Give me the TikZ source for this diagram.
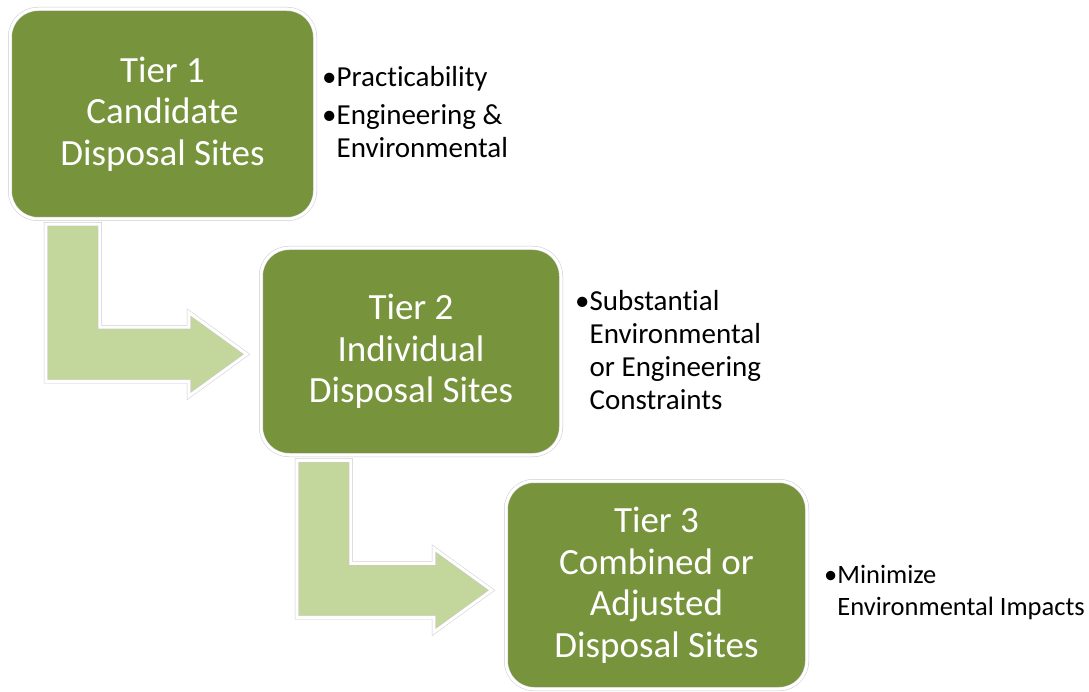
\documentclass[tikz,border=0pt]{standalone}
\usepackage{fontspec}
\setmainfont{Carlito}[Ligatures=NoCommon]
\usetikzlibrary{calc}
\definecolor{tiergreen}{HTML}{77933C}
\definecolor{flowgreen}{HTML}{C3D69B}
\tikzstyle{tier}=[rectangle,rounded corners=28pt,fill=tiergreen,draw=black!20,double=white,double distance=3pt,line width=0.5pt,text=white,align=center,inner sep=0pt,font=\fontsize{37}{41.5}\selectfont]
\tikzstyle{crit}=[anchor=base west,inner sep=0pt,font=\fontsize{29}{33}\selectfont]
\tikzstyle{flow}=[fill=flowgreen,draw=black!20,double=white,double distance=3pt,line width=0.5pt]

\begin{document}
\begin{tikzpicture}[x=1pt,y=-1pt]
\fill[white] (0,0) rectangle (1089,692);
\node[tier,minimum width=305pt,minimum height=210pt] (t1) at (162.5,114) {Tier 1\\Candidate\\Disposal Sites};
\node[tier,minimum width=300pt,minimum height=207pt] (t2) at (411,351.5) {Tier 2\\Individual\\Disposal Sites};
\node[tier,minimum width=301pt,minimum height=208pt] (t3) at (656.5,585) {Tier 3\\Combined or\\Adjusted\\Disposal Sites};
\node[crit] (c1) at (322,87) {\begin{tabular}[t]{@{}l@{}l@{}}•&Practicability\\[5pt]•&Engineering \&\\&Environmental\end{tabular}};
\node[crit] (c2) at (575,311) {\begin{tabular}[t]{@{}l@{}l@{}}•&Substantial\\&Environmental\\&or Engineering\\&Constraints\end{tabular}};
\node[crit,font=\fontsize{26.5}{32}\selectfont] (c3) at (824,583) {\begin{tabular}[t]{@{}l@{}l@{}}•&Minimize\\&Environmental Impacts\end{tabular}};
\foreach \a/\b in {t1/t2,t2/t3}{
\coordinate (s) at ($(\a.south west)+(36,5)$);
\coordinate (m) at ($(s)+(0,130)$);
\coordinate (n) at ($(\b.west)+(-14,0)$);
\coordinate (tip) at (m -| n);
\draw[flow] (s) |- ($(tip)+(-58,27)$) -- ++(0,15) -- (tip) -- ++(-58,-42) -- ++(0,15) -| ($(s)+(54,0)$) -- cycle;
}
\end{tikzpicture}
\end{document}
